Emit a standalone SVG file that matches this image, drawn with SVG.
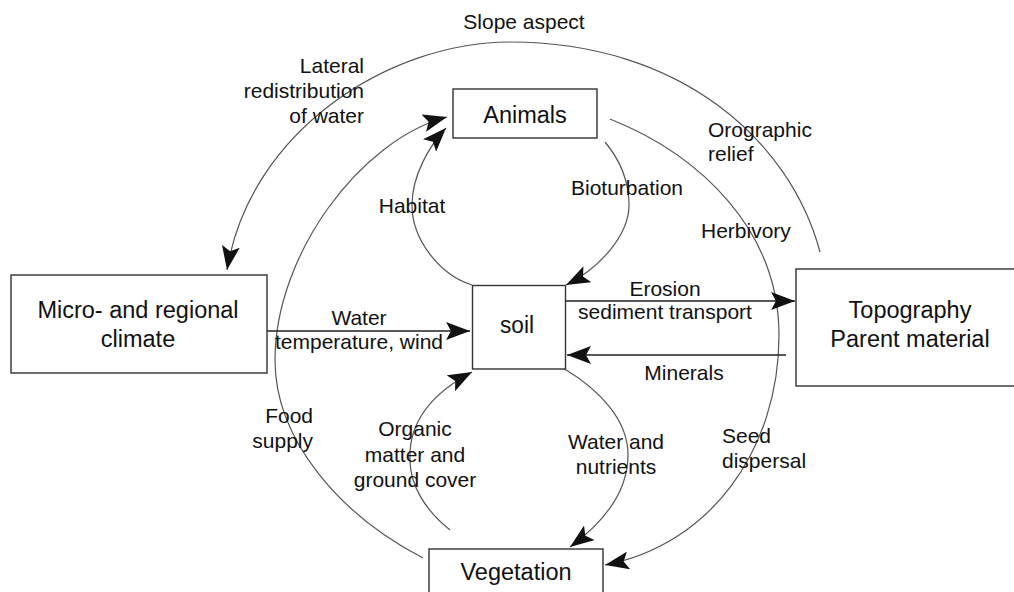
<svg xmlns="http://www.w3.org/2000/svg" width="1014" height="592" viewBox="0 0 1014 592">
<style>
.box{fill:#fff;stroke:#333;stroke-width:1.4}
.nl{font-family:"Liberation Sans",Arial,sans-serif;font-size:23.5px;fill:#111;text-anchor:middle}
.el{font-family:"Liberation Sans",Arial,sans-serif;font-size:21px;fill:#111}
.arc{fill:none;stroke:#555;stroke-width:1.2;marker-end:url(#ah)}
.str{fill:none;stroke:#222;stroke-width:1.5;marker-end:url(#ah)}
.m{text-anchor:middle}.e{text-anchor:end}.s{text-anchor:start}
</style>
<defs>
<marker id="ah" viewBox="0 0 24 18" refX="24" refY="9" markerWidth="24" markerHeight="18" markerUnits="userSpaceOnUse" orient="auto">
<path d="M0,0 L24,9 L0,18 L5,9 Z" fill="#111"/>
</marker>
</defs>
<rect width="1014" height="592" fill="#fff"/>
<g id="connectors">
<path class="arc" d="M820,252 C790,140 680,42 510,42 C390,42 250,130 227,270"/>
<path class="arc" d="M423,558 C340,515 275,440 275,360 C275,255 360,140 447,117"/>
<path class="arc" d="M472,285 C440,275 412,240 412,205 C412,175 430,145 446,128"/>
<path class="arc" d="M605,142 C620,160 629,180 629,205 C629,235 600,268 566,285"/>
<path class="arc" d="M610,119 C700,155 779,230 779,335 C779,450 710,545 605,565"/>
<path class="arc" d="M450,530 C425,510 410,485 410,460 C408,415 442,388 472,372"/>
<path class="arc" d="M563,368 C600,390 628,420 628,455 C628,495 600,525 570,547"/>
<path class="str" d="M267,331 L470,331"/>
<path class="str" d="M566,301 L795,301"/>
<path class="str" d="M786,355 L567,355"/>
</g>
<g id="animals"><rect class="box" x="453" y="89" width="144" height="49"/><text class="nl" x="525" y="123">Animals</text></g>
<g id="soil"><rect class="box" x="472.5" y="285.5" width="93" height="83.5"/><text class="nl" x="517" y="333" font-size="28" textLength="34" lengthAdjust="spacingAndGlyphs">soil</text></g>
<g id="climate"><rect class="box" x="11" y="275" width="256" height="98"/><text class="nl" x="138" y="318">Micro- and regional</text><text class="nl" x="138" y="347">climate</text></g>
<g id="topography"><rect class="box" x="796" y="269" width="240" height="117"/><text class="nl" x="910" y="318">Topography</text><text class="nl" x="910" y="347">Parent material</text></g>
<g id="vegetation"><rect class="box" x="429" y="549" width="174" height="60"/><text class="nl" x="516" y="579.5">Vegetation</text></g>
<g id="labels">
<text class="el m" x="524" y="29">Slope aspect</text>
<text class="el e" x="364" y="73">Lateral</text>
<text class="el e" x="364" y="98">redistribution</text>
<text class="el e" x="364" y="123">of water</text>
<text class="el m" x="412" y="213">Habitat</text>
<text class="el m" x="627" y="195">Bioturbation</text>
<text class="el s" x="708" y="137">Orographic</text>
<text class="el s" x="708" y="161">relief</text>
<text class="el s" x="701" y="238">Herbivory</text>
<text class="el m" x="665" y="296">Erosion</text>
<text class="el m" x="665" y="319">sediment transport</text>
<text class="el m" x="684" y="380">Minerals</text>
<text class="el m" x="359" y="325">Water</text>
<text class="el m" x="359" y="349">temperature, wind</text>
<text class="el e" x="313" y="423">Food</text>
<text class="el e" x="313" y="448">supply</text>
<text class="el m" x="415" y="436">Organic</text>
<text class="el m" x="415" y="462">matter and</text>
<text class="el m" x="415" y="487">ground cover</text>
<text class="el m" x="616" y="449">Water and</text>
<text class="el m" x="616" y="474">nutrients</text>
<text class="el s" x="722" y="443">Seed</text>
<text class="el s" x="722" y="468">dispersal</text>
</g>
</svg>
